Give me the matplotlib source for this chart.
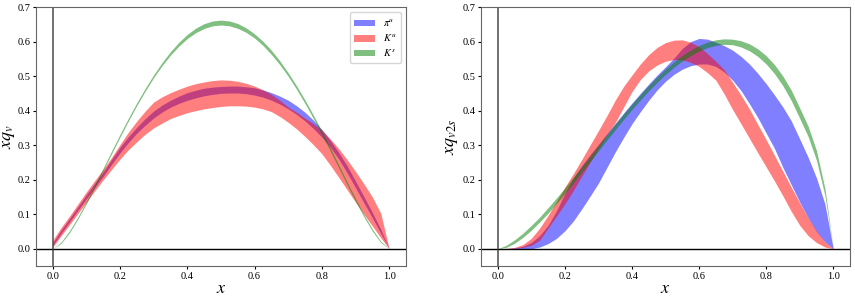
import matplotlib
matplotlib.use("Agg")
import matplotlib.pyplot as plt

plt.rcParams['font.family'] = ['Liberation Serif', 'DejaVu Serif']
plt.rcParams['mathtext.fontset'] = 'stix'

# shared x grid (step 0.025)
X = [i / 40 for i in range(41)]

# ---- left panel: x q_v ----
L_PI_LO = [.010, .045, .078, .112, .145, .178, .210, .245, .278, .308, .335, .358, .379, .396, .410, .421, .430, .437, .443, .447,
           .450, .451, .451, .449, .445, .439, .430, .419, .405, .389, .370, .348, .323, .294, .260, .220, .177, .133, .090, .045, 0]
L_PI_HI = [.017, .054, .088, .122, .157, .190, .223, .259, .294, .325, .352, .377, .399, .416, .430, .442, .452, .459, .465, .468,
           .470, .471, .471, .469, .466, .460, .452, .442, .430, .414, .395, .372, .345, .314, .279, .240, .196, .151, .105, .056, 0]
L_KU_LO = [.005, .038, .070, .103, .135, .168, .200, .230, .260, .287, .310, .332, .350, .364, .377, .386, .394, .400, .405, .409,
           .412, .414, .414, .413, .410, .405, .397, .383, .366, .347, .325, .301, .275, .242, .207, .171, .135, .100, .066, .032, 0]
L_KU_HI = [.025, .062, .095, .130, .165, .198, .230, .265, .302, .338, .370, .399, .425, .440, .452, .462, .471, .478, .483, .487,
           .489, .488, .485, .479, .471, .460, .447, .430, .410, .395, .378, .362, .344, .318, .290, .258, .224, .188, .150, .103, 0]
L_KS_MID = [0, .0178, .0499, .0898, .1344, .1819, .2307, .2797, .328, .3747, .4194, .4612, .4999, .5349, .566, .5926, .6149, .6323, .6449, .6525,
            .655, .6526, .6452, .633, .6161, .5946, .5686, .5384, .5043, .4665, .4254, .3815, .3354, .2875, .2386, .1895, .1415, .0958, .0542, .0199, 0]
L_KS_HW = [0, .002, .003, .003, .0035, .0035, .0035, .004, .004, .004, .004, .004, .004, .0045, .005, .0055, .006, .0065, .007, .007,
           .007, .007, .007, .0065, .006, .006, .006, .0055, .005, .005, .005, .005, .005, .0045, .0045, .004, .004, .0035, .003, .002, 0]

# ---- right panel: x q_v2s ----
R_PI_LO = [0, 0, 0, 0, 0, .005, .015, .030, .052, .080, .115, .152, .190, .235, .280, .322, .362, .397, .430, .460,
           .485, .505, .520, .530, .535, .535, .528, .512, .488, .458, .420, .380, .335, .290, .235, .185, .135, .090, .050, .020, 0]
R_PI_HI = [0, 0, .002, .007, .018, .038, .068, .110, .160, .205, .240, .272, .302, .333, .363, .393, .422, .450, .477, .503,
           .527, .552, .580, .600, .609, .607, .598, .588, .575, .557, .535, .508, .478, .445, .410, .370, .318, .265, .205, .130, 0]
R_KU_LO = [0, 0, .001, .004, .010, .025, .060, .095, .130, .168, .210, .250, .290, .330, .365, .410, .455, .490, .515, .532,
           .543, .548, .547, .540, .528, .510, .488, .448, .403, .362, .320, .278, .237, .196, .153, .108, .068, .038, .018, .005, 0]
R_KU_HI = [0, .001, .004, .012, .030, .060, .097, .137, .178, .217, .258, .300, .342, .385, .430, .470, .503, .535, .562, .583,
           .597, .604, .605, .598, .585, .565, .543, .518, .482, .445, .405, .360, .316, .270, .224, .178, .133, .090, .052, .020, 0]
R_KS_MID = [0, .007, .0208, .0391, .0607, .0849, .1112, .1391, .1683, .1985, .2292, .2603, .2914, .3223, .3529, .3824, .4115, .4389, .4654, .4898,
            .5129, .5335, .5519, .5676, .5808, .5905, .5971, .5999, .5989, .5933, .5833, .568, .5471, .5199, .4857, .4439, .3927, .340, .270, .165, 0]
R_KS_HW = [0, .003, .005, .006, .007, .007, .008, .008, .008, .008, .008, .008, .008, .008, .008, .008, .008, .008, .008, .008,
           .008, .008, .008, .008, .008, .008, .008, .008, .008, .009, .010, .011, .012, .013, .014, .015, .015, .015, .014, .010, 0]

LABELS = [r'$\pi^u$', r'$K^u$', r'$K^s$']
COLORS = ['blue', 'red', 'green']

fig = plt.figure(figsize=(8.55, 3.0), dpi=100)
ax1 = fig.add_axes([0.0421, 0.1133, 0.4327, 0.8633])
ax2 = fig.add_axes([0.5626, 0.1133, 0.4316, 0.8633])


def band(mid, hw):
    return ([m - h for m, h in zip(mid, hw)], [m + h for m, h in zip(mid, hw)])


def panel(ax, bands, ylabel, ylx):
    for (lo, hi), lab, c in zip(bands, LABELS, COLORS):
        ax.fill_between(X, lo, hi, color=c, alpha=0.5, linewidth=0, label=lab)
    ax.axhline(0, color='black', lw=1.0)
    ax.axvline(0, color='#333333', lw=1.3, alpha=0.75)
    ax.set_xlim(-0.05, 1.05)
    ax.set_ylim(-0.05, 0.7)
    ax.set_xlabel(r'$x$', fontsize=13)
    ax.set_ylabel(ylabel, fontsize=13)
    ax.xaxis.set_label_coords(0.5, -0.055)
    ax.yaxis.set_label_coords(ylx, 0.5)
    ax.tick_params(labelsize=7.5, length=2.5, width=0.8, pad=1.5)
    for s in ax.spines.values():
        s.set_color('#666666')


panel(ax1, [(L_PI_LO, L_PI_HI), (L_KU_LO, L_KU_HI), band(L_KS_MID, L_KS_HW)], r'$xq_v$', -0.052)
panel(ax2, [(R_PI_LO, R_PI_HI), (R_KU_LO, R_KU_HI), band(R_KS_MID, R_KS_HW)], r'$xq_{v2s}$', -0.057)
ax1.legend(loc='upper right', fontsize=7.5, handlelength=2.0, handleheight=0.6, borderpad=0.4,
           labelspacing=0.3, handletextpad=0.8, borderaxespad=0.5)

fig.savefig('out.png', dpi=100)
